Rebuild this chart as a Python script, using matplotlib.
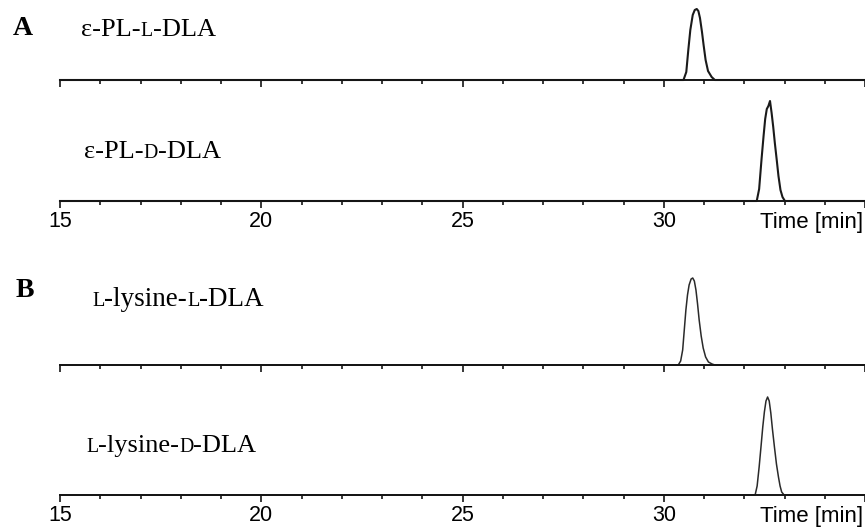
import matplotlib
matplotlib.use("Agg")
import matplotlib.pyplot as plt
import numpy as np

# chromatogram traces: retention time [min] and detector signal (arbitrary units)
# baseline is flat at zero outside the peak
pl_l_time = [15, 30.49, 30.56, 30.61, 30.66, 30.72, 30.77, 30.82, 30.86, 30.90,
             30.95, 30.99, 31.04, 31.10, 31.19, 31.27, 35]
pl_l_signal = [0, 0, 8, 30, 50, 65, 70, 71, 69, 62, 48, 35, 20, 9, 3, 0, 0]

pl_d_time = [15, 32.31, 32.37, 32.43, 32.48, 32.52, 32.56, 32.60, 32.64, 32.68,
             32.72, 32.76, 32.81, 32.85, 32.90, 32.95, 33.01, 35]
pl_d_signal = [0, 0, 12, 42, 65, 82, 92, 95, 100, 88, 74, 58, 40, 25, 11, 4, 0, 0]

lys_l_time = [15, 30.36, 30.42, 30.47, 30.51, 30.55, 30.59, 30.63, 30.68, 30.72,
              30.76, 30.80, 30.84, 30.88, 30.93, 30.98, 31.04, 31.11, 31.20, 31.27, 35]
lys_l_signal = [0, 0, 4, 15, 35, 55, 70, 80, 86, 87, 84, 75, 61, 45, 29, 17, 8, 3, 1, 0, 0]

lys_d_time = [15, 32.27, 32.32, 32.37, 32.42, 32.46, 32.50, 32.54, 32.58, 32.62,
              32.66, 32.70, 32.75, 32.80, 32.85, 32.89, 32.93, 32.99, 35]
lys_d_signal = [0, 0, 9, 28, 50, 68, 83, 94, 98, 94, 82, 66, 48, 31, 18, 9, 3, 0, 0]

major_ticks = [15, 20, 25, 30, 35]
tick_labels = ["15", "20", "25", "30", ""]

W, H = 865, 531
fig = plt.figure(figsize=(W / 100, H / 100), dpi=100)

# overlay in pixel units for the text labels
ov = fig.add_axes([0, 0, 1, 1])
ov.set_xlim(0, W)
ov.set_ylim(H, 0)
ov.axis("off")

serif = "Liberation Serif"
sans = "Liberation Sans"


def trace_axes(baseline_px, t, s, lw, color, labels):
    ax = fig.add_axes([60 / W, 1 - baseline_px / H, 1 - 60 / W, 100 / H])
    ax.patch.set_alpha(0)
    ax.plot(t, s, color=color, lw=lw, clip_on=False)
    ax.set_xlim(15, 35)
    ax.set_ylim(0, 100)
    for side in ["left", "right", "top"]:
        ax.spines[side].set_visible(False)
    ax.spines["bottom"].set_linewidth(1.4)
    ax.spines["bottom"].set_color("#151515")
    ax.set_yticks([])
    ax.set_xticks(major_ticks)
    ax.set_xticks(np.arange(15, 36, 1), minor=True)
    ax.tick_params(axis="x", which="major", length=5, width=1.2, color="#151515", pad=2)
    ax.tick_params(axis="x", which="minor", length=3, width=1.2, color="#151515")
    if labels:
        ax.set_xticklabels(tick_labels, fontsize=15.5, fontfamily=sans)
    else:
        ax.set_xticklabels([])
    return ax


trace_axes(80, pl_l_time, pl_l_signal, 1.5, "#1a1a1a", False)
trace_axes(201, pl_d_time, pl_d_signal, 1.5, "#1a1a1a", True)
trace_axes(365, lys_l_time, lys_l_signal, 1.1, "#2a2a2a", False)
trace_axes(495, lys_d_time, lys_d_signal, 1.1, "#2a2a2a", True)


def name_label(x, y, pieces, size=19):
    # pieces: (text, small_caps) drawn one after another on a common baseline
    prev = None
    for txt, small in pieces:
        fs = size * 0.75 if small else size
        if prev is None:
            prev = ov.text(x, y, txt, fontsize=fs, fontfamily=serif, va="baseline", ha="left")
        else:
            prev = ov.annotate(txt, xy=(1, y), xycoords=(prev, "data"), fontsize=fs,
                               fontfamily=serif, va="baseline", ha="left")


ov.text(13, 35, "A", fontsize=20, fontweight="bold", fontfamily=serif, va="baseline")
ov.text(16, 297, "B", fontsize=20, fontweight="bold", fontfamily=serif, va="baseline")

name_label(81, 36, [("ε-PL-", False), ("L", True), ("-DLA", False)])
name_label(84, 158, [("ε-PL-", False), ("D", True), ("-DLA", False)])
name_label(92, 306, [("L", True), ("-lysine-", False), ("L", True), ("-DLA", False)], size=19.5)
name_label(86, 452, [("L", True), ("-lysine-", False), ("D", True), ("-DLA", False)])

ov.text(863, 228, "Time [min]", fontsize=16, fontfamily=sans, ha="right", va="baseline")
ov.text(863, 522, "Time [min]", fontsize=16, fontfamily=sans, ha="right", va="baseline")

fig.savefig("out.png", dpi=100)
